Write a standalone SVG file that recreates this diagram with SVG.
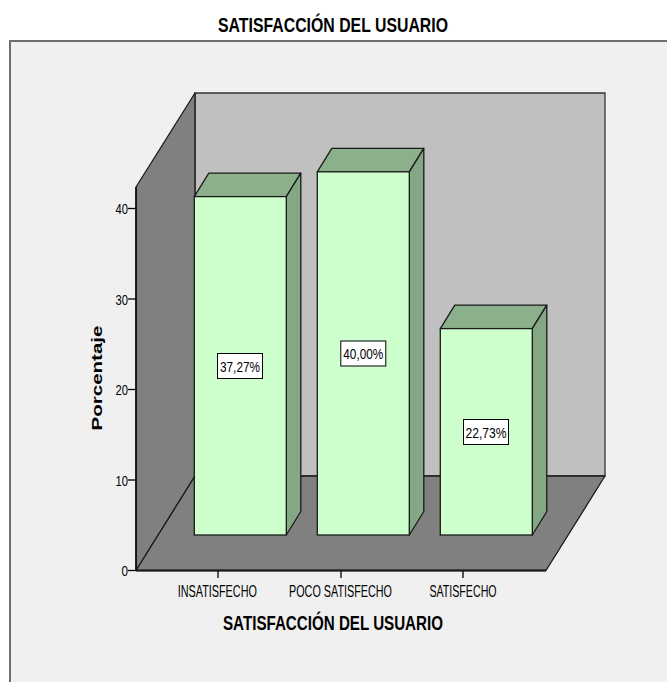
<svg xmlns="http://www.w3.org/2000/svg" width="667" height="682" viewBox="0 0 667 682">
<style>
.t{font-family:"Liberation Sans",Arial,sans-serif;fill:#000}
.front{fill:#ccffcc;stroke:#1a1a1a;stroke-width:1.3}
.top{fill:#8cb08c;stroke:#1a1a1a;stroke-width:1.3;stroke-linejoin:round}
.side{fill:#84a884;stroke:#1a1a1a;stroke-width:1.3;stroke-linejoin:round}
.lbl{fill:#fff;stroke:#000;stroke-width:1}
.ax{stroke:#000;stroke-width:1.3;fill:none}
</style>
<rect x="0" y="0" width="667" height="682" fill="#ffffff"/>
<rect x="10" y="41" width="700" height="700" fill="#f0f0f0" stroke="#6e6e6e" stroke-width="2"/>
<g id="walls">
<polygon points="195,93 605,93 605,476 195,476" fill="#c0c0c0" stroke="#333" stroke-width="1.3"/>
<polygon points="136,570.5 136,187 195,93 195,476" fill="#808080" stroke="#1a1a1a" stroke-width="1.3" stroke-linejoin="round"/>
<polygon points="136,570.5 195,476 605,476 546,570.5" fill="#808080" stroke="#1a1a1a" stroke-width="1.3" stroke-linejoin="round"/>
</g>
<g id="axes">
<line class="ax" x1="136" y1="187" x2="136" y2="571"/>
<line x1="136" y1="570.5" x2="546" y2="570.5" stroke="#1a1a1a" stroke-width="2"/>
<g class="ax">
<line x1="128" y1="570.5" x2="136" y2="570.5"/>
<line x1="128" y1="480" x2="136" y2="480"/>
<line x1="128" y1="389.5" x2="136" y2="389.5"/>
<line x1="128" y1="299" x2="136" y2="299"/>
<line x1="128" y1="208.5" x2="136" y2="208.5"/>
<line x1="218" y1="571" x2="218" y2="578"/>
<line x1="341" y1="571" x2="341" y2="578"/>
<line x1="463" y1="571" x2="463" y2="578"/>
</g>
<g class="t" font-size="15" text-anchor="end">
<text x="128" y="576" textLength="6.5" lengthAdjust="spacingAndGlyphs">0</text>
<text x="128" y="485.5" textLength="12.5" lengthAdjust="spacingAndGlyphs">10</text>
<text x="128" y="395" textLength="12.5" lengthAdjust="spacingAndGlyphs">20</text>
<text x="128" y="304.5" textLength="12.5" lengthAdjust="spacingAndGlyphs">30</text>
<text x="128" y="214" textLength="12.5" lengthAdjust="spacingAndGlyphs">40</text>
</g>
<text class="t" font-size="15" font-weight="bold" text-anchor="middle" transform="translate(102,378) rotate(-90)" textLength="105" lengthAdjust="spacingAndGlyphs">Porcentaje</text>
<g class="t" font-size="16" text-anchor="middle">
<text transform="translate(217.3,597) scale(0.677,1)">INSATISFECHO</text>
<text transform="translate(340.5,597) scale(0.676,1)">POCO SATISFECHO</text>
<text transform="translate(463,597) scale(0.665,1)">SATISFECHO</text>
</g>
<text class="t" x="333" y="630" font-size="20" font-weight="bold" text-anchor="middle" textLength="220" lengthAdjust="spacingAndGlyphs">SATISFACCIÓN DEL USUARIO</text>
</g>
<text id="title" class="t" x="333" y="32" font-size="21" font-weight="bold" text-anchor="middle" textLength="230" lengthAdjust="spacingAndGlyphs">SATISFACCIÓN DEL USUARIO</text>
<g id="bar-insatisfecho">
<polygon class="top" points="194.3,196.6 208.8,173.1 300.8,173.1 286.3,196.6"/>
<polygon class="side" points="286.3,196.6 300.8,173.1 300.8,511.5 286.3,535"/>
<rect class="front" x="194.3" y="196.6" width="92" height="338.4"/>
<rect class="lbl" x="217.5" y="353.5" width="45" height="25"/>
<text class="t" x="240" y="371.5" font-size="15" text-anchor="middle" textLength="40" lengthAdjust="spacingAndGlyphs">37,27%</text>
</g>
<g id="bar-poco-satisfecho">
<polygon class="top" points="317.3,171.8 331.8,148.3 423.8,148.3 409.3,171.8"/>
<polygon class="side" points="409.3,171.8 423.8,148.3 423.8,511.5 409.3,535"/>
<rect class="front" x="317.3" y="171.8" width="92" height="363.2"/>
<rect class="lbl" x="340.8" y="341" width="45" height="25"/>
<text class="t" x="363.3" y="359" font-size="15" text-anchor="middle" textLength="40" lengthAdjust="spacingAndGlyphs">40,00%</text>
</g>
<g id="bar-satisfecho">
<polygon class="top" points="440.3,328.6 454.8,305.1 546.8,305.1 532.3,328.6"/>
<polygon class="side" points="532.3,328.6 546.8,305.1 546.8,511.5 532.3,535"/>
<rect class="front" x="440.3" y="328.6" width="92" height="206.4"/>
<rect class="lbl" x="463.5" y="419.5" width="45" height="25"/>
<text class="t" x="486" y="437.5" font-size="15" text-anchor="middle" textLength="41" lengthAdjust="spacingAndGlyphs">22,73%</text>
</g>
</svg>
